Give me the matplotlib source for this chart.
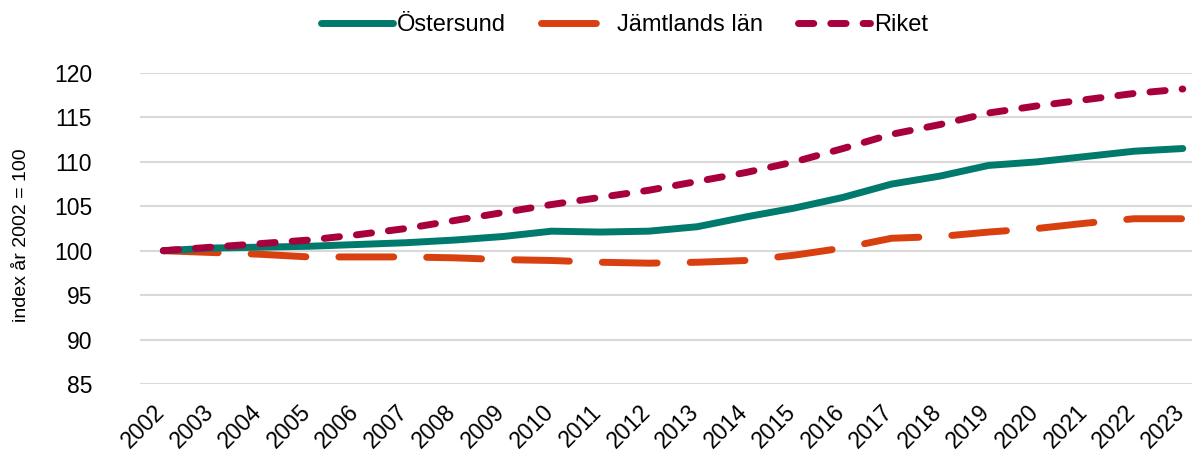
import matplotlib
matplotlib.use('Agg')
import matplotlib.pyplot as plt
from matplotlib.transforms import ScaledTranslation

plt.rcParams['font.family'] = ['Liberation Sans', 'DejaVu Sans']

# Data (index, år 2002 = 100)
years = list(range(2002, 2024))
ostersund = [100.0, 100.3, 100.4, 100.5, 100.7, 100.9, 101.2, 101.6, 102.2, 102.1, 102.2,
             102.7, 103.8, 104.8, 106.0, 107.5, 108.4, 109.6, 110.0, 110.6, 111.2, 111.5]
jamtland = [100.0, 99.8, 99.6, 99.3, 99.3, 99.3, 99.2, 99.0, 98.9, 98.7, 98.6,
            98.7, 98.9, 99.5, 100.3, 101.4, 101.6, 102.1, 102.5, 103.1, 103.6, 103.6]
riket = [100.0, 100.4, 100.8, 101.2, 101.8, 102.5, 103.4, 104.3, 105.2, 106.0, 106.8,
         107.8, 108.8, 110.0, 111.5, 113.1, 114.2, 115.5, 116.3, 117.0, 117.7, 118.2]
y_ticks = [85, 90, 95, 100, 105, 110, 115, 120]

fig = plt.figure(figsize=(11.92, 4.53), dpi=100)
ax = fig.add_axes([140 / 1192, 69 / 453, 1 - 140 / 1192, (384 - 73) / 453])

lw = 5.0
ax.plot(years, ostersund, color='#007A6C', lw=lw, solid_capstyle='round',
        label='Östersund', zorder=3)
ax.plot(years, jamtland, color='#D9400F', lw=lw, dashes=(7.9, 4.75),
        dash_capstyle='round', label='Jämtlands län', zorder=2)
ax.plot(years, riket, color='#A8003C', lw=lw, dashes=(2.2, 2.45),
        dash_capstyle='round', label='Riket', zorder=4)

ax.set_ylim(85, 120)
ax.set_yticks(y_ticks)
ax.set_xlim(2001.52, 2023.19)
ax.set_xticks(years)
ax.set_xticklabels([str(y) for y in years], rotation=45, ha='right',
                   rotation_mode='anchor', fontsize=16.5)
ax.tick_params(axis='y', labelsize=16.5, length=0, pad=34.5)
ax.tick_params(axis='x', length=0, pad=12)
shift = ScaledTranslation(-10 / 100, 0, fig.dpi_scale_trans)
for lab in ax.get_xticklabels():
    lab.set_transform(lab.get_transform() + shift)
ax.grid(axis='y', color='#D9D9D9', lw=1.5)
ax.set_axisbelow(True)
for s in ax.spines.values():
    s.set_visible(False)

ax.set_ylabel('index år 2002 = 100', fontsize=14)
ax.yaxis.set_label_coords(-0.105, 0.48)

fig.legend(loc='center', bbox_to_anchor=(0.524, 0.945), ncol=3, frameon=False,
           fontsize=17, handlelength=3.05, handletextpad=0.15, columnspacing=1.5)

fig.savefig('out.png', dpi=100)
